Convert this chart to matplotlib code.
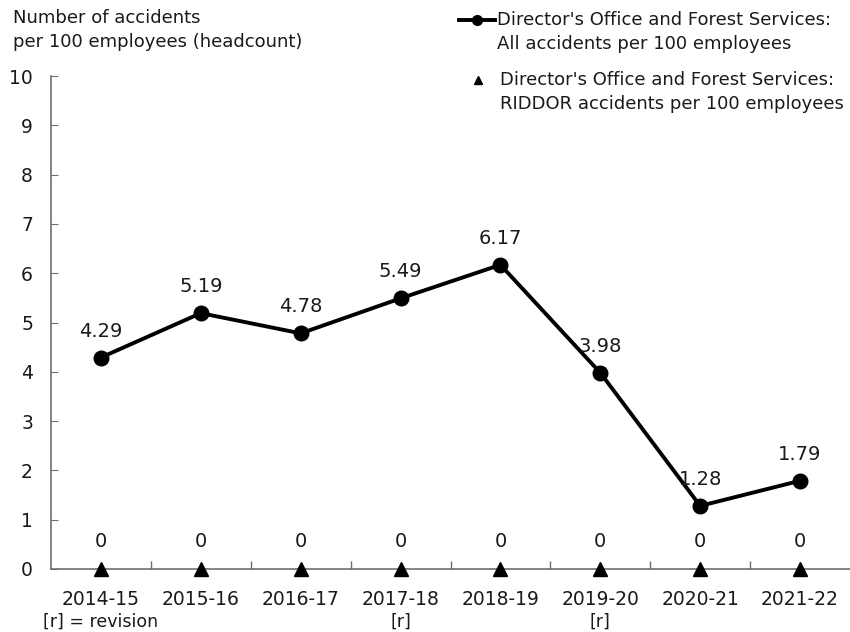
import matplotlib.pyplot as plt
from matplotlib.lines import Line2D

years = ['2014-15', '2015-16', '2016-17', '2017-18', '2018-19', '2019-20', '2020-21', '2021-22']
notes = ['[r] = revision', '', '', '[r]', '', '[r]', '', '']
all_rate = [4.29, 5.19, 4.78, 5.49, 6.17, 3.98, 1.28, 1.79]
riddor_rate = [0, 0, 0, 0, 0, 0, 0, 0]

plt.rcParams['font.family'] = ['DejaVu Sans']
txt = '#1a1a1a'
axc = '#6e6e6e'

fig = plt.figure(figsize=(8.5, 6.32), dpi=100)
ax = fig.add_axes([0.06, 0.0997, 0.94, 0.78])

x = list(range(len(years)))
ax.plot(x, all_rate, color='black', lw=2.8, marker='o', ms=10.5, zorder=3)
ax.plot(x, riddor_rate, ls='none', color='black', marker='^', ms=9.5, zorder=4, clip_on=False)

for xi, v in zip(x, all_rate):
    ax.annotate(f'{v:.2f}', (xi, v), xytext=(0, 19), textcoords='offset points',
                ha='center', va='center', fontsize=14, color=txt)
for xi, v in zip(x, riddor_rate):
    ax.annotate(f'{v:g}', (xi, v), xytext=(0, 20), textcoords='offset points',
                ha='center', va='center', fontsize=14, color=txt)

# revision notes under the year labels
for xi, n in zip(x, notes):
    if n:
        ax.annotate(n, (xi, 0), xytext=(0, -38), textcoords='offset points',
                    ha='center', va='center', fontsize=12.5, color=txt, annotation_clip=False)

ax.set_xlim(-0.5, len(years) - 0.5)
ax.set_ylim(0, 10)
ax.set_yticks(range(0, 11))
ax.set_xticks(x)
ax.set_xticklabels(years)
ax.set_xticks([i + 0.5 for i in x[:-1]], minor=True)
ax.tick_params(axis='x', which='major', length=0, pad=15, labelsize=13.5, colors=txt)
ax.tick_params(axis='x', which='minor', direction='in', length=6, color=axc, width=1)
ax.tick_params(axis='y', direction='in', length=5, pad=13, labelsize=13.5, colors=txt, color=axc)

for s in ['top', 'right']:
    ax.spines[s].set_visible(False)
for s in ['left', 'bottom']:
    ax.spines[s].set_color(axc)
    ax.spines[s].set_linewidth(1.2)

fig.text(13 / 850, 1 - 30 / 632, 'Number of accidents\nper 100 employees (headcount)',
         fontsize=13, color=txt, ha='left', va='center', linespacing=1.43)

# legend drawn in figure space so the keys line up with the first text line
fig.add_artist(Line2D([459 / 850, 495 / 850], [1 - 20 / 632] * 2, color='black', lw=2.8,
                      transform=fig.transFigure))
fig.add_artist(Line2D([477 / 850], [1 - 20 / 632], color='black', marker='o', ms=7,
                      transform=fig.transFigure))
fig.add_artist(Line2D([478 / 850], [1 - 80 / 632], color='black', marker='^', ms=6,
                      ls='none', transform=fig.transFigure))
fig.text(497 / 850, 1 - 32 / 632,
         "Director's Office and Forest Services:\nAll accidents per 100 employees",
         fontsize=13, color=txt, ha='left', va='center', linespacing=1.43)
fig.text(500 / 850, 1 - 92 / 632,
         "Director's Office and Forest Services:\nRIDDOR accidents per 100 employees",
         fontsize=13, color=txt, ha='left', va='center', linespacing=1.43)

fig.savefig('out.png', dpi=100)
